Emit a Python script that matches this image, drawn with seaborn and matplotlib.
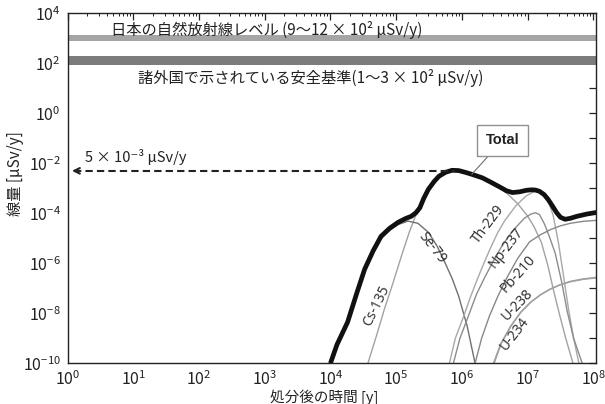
import numpy as np
import pandas as pd
import matplotlib
matplotlib.use("Agg")
import matplotlib.pyplot as plt
import seaborn as sns
from matplotlib.ticker import LogLocator, NullFormatter, FixedLocator, FixedFormatter, NullLocator

# ---------------- data (log10 values) ----------------
# log10(time after disposal [y]) and log10(dose [uSv/y])
total_logt = [4.00, 4.10, 4.26, 4.40, 4.52, 4.65, 4.77, 4.90, 5.03, 5.15, 5.23, 5.30, 5.36, 5.42,
              5.49, 5.58, 5.65, 5.75, 5.85, 5.95, 6.05, 6.15, 6.31, 6.45, 6.57, 6.68, 6.77, 6.88,
              6.98, 7.06, 7.12, 7.18, 7.25, 7.31, 7.38, 7.44, 7.50, 7.57, 7.65, 7.75, 7.90, 8.06]
total_logd = [-10.0, -9.25, -8.36, -7.20, -6.24, -5.50, -4.92, -4.60, -4.36, -4.20, -4.12, -3.98, -3.78, -3.40,
              -3.04, -2.72, -2.52, -2.36, -2.28, -2.29, -2.36, -2.44, -2.58, -2.77, -2.94, -3.10, -3.17, -3.14,
              -3.08, -3.06, -3.07, -3.12, -3.25, -3.44, -3.72, -3.97, -4.16, -4.24, -4.20, -4.12, -4.03, -3.96]

cs135_logt = [4.57, 4.70, 4.82, 4.95, 5.08, 5.20, 5.34, 5.42, 5.49, 5.58, 5.65, 5.75, 5.85, 5.95, 6.05,
              6.15, 6.31, 6.45, 6.57, 6.70, 6.85, 7.00, 7.10, 7.21, 7.31, 7.39, 7.48, 7.58, 7.69]
cs135_logd = [-10.0, -8.9, -7.84, -6.8, -5.71, -4.75, -3.80, -3.42, -3.06, -2.74, -2.54, -2.38, -2.30, -2.31, -2.38,
              -2.46, -2.60, -2.80, -2.98, -3.24, -3.62, -4.11, -4.55, -5.17, -6.11, -7.04, -8.0, -9.0, -10.0]

se79_logt = [4.00, 4.10, 4.26, 4.40, 4.52, 4.65, 4.77, 4.90, 5.03, 5.18, 5.33, 5.49, 5.62, 5.74, 5.85, 5.95, 6.08, 6.20]
se79_logd = [-10.0, -9.30, -8.40, -7.25, -6.30, -5.60, -5.02, -4.68, -4.45, -4.31, -4.40, -4.76, -5.30, -5.96,
             -6.60, -7.31, -8.51, -10.0]

th229_logt = [5.81, 5.90, 6.03, 6.13, 6.24, 6.35, 6.45, 6.55, 6.65, 6.82, 6.98, 7.10, 7.18, 7.25, 7.32,
              7.39, 7.47, 7.54, 7.62, 7.70, 7.78]
th229_logd = [-10.0, -9.0, -8.1, -7.35, -6.6, -5.9, -5.3, -4.75, -4.3, -3.7, -3.3, -3.13, -3.14, -3.27, -3.55,
              -4.1, -5.2, -6.4, -7.8, -9.0, -10.0]

np237_logt = [5.87, 5.97, 6.10, 6.22, 6.35, 6.48, 6.61, 6.73, 6.85, 6.95, 7.05, 7.12, 7.18, 7.26, 7.34,
              7.42, 7.52, 7.60, 7.70, 7.83]
np237_logd = [-10.0, -9.0, -8.1, -7.25, -6.55, -5.9, -5.3, -4.85, -4.48, -4.2, -4.03, -3.98, -4.05, -4.45,
              -5.0, -5.6, -6.77, -7.9, -9.0, -10.0]

pb210_logt = [6.20, 6.30, 6.42, 6.55, 6.70, 6.85, 7.03, 7.20, 7.35, 7.50, 7.65, 7.85, 8.06]
pb210_logd = [-10.0, -9.0, -8.1, -7.3, -6.5, -5.8, -5.14, -4.85, -4.65, -4.50, -4.40, -4.32, -4.28]

u238_logt = [6.48, 6.59, 6.74, 6.89, 7.04, 7.19, 7.34, 7.49, 7.65, 7.85, 8.06]
u238_logd = [-10.0, -9.22, -8.52, -7.97, -7.57, -7.27, -7.04, -6.87, -6.74, -6.64, -6.58]

u234_logt = [6.49, 6.60, 6.75, 6.90, 7.05, 7.20, 7.35, 7.50, 7.65, 7.85, 8.06]
u234_logd = [-10.0, -9.2, -8.5, -7.95, -7.55, -7.25, -7.02, -6.85, -6.72, -6.62, -6.56]

nuclide_names = ["Cs-135", "Se-79", "Th-229", "Np-237", "Pb-210", "U-238", "U-234"]

# reference levels [uSv/y]
natural_band = [760, 1320]        # 日本の自然放射線レベル
standard_band = [83, 190]         # 諸外国の安全基準
target_dose = 5e-3                # 5 x 10^-3 uSv/y
peak_time = 10 ** 5.89

xtick_values = [1e0, 1e1, 1e2, 1e3, 1e4, 1e5, 1e6, 1e7, 1e8]
xtick_labels = [r"$\mathregular{10^{%d}}$" % e for e in range(0, 9)]
ytick_values = [10.0 ** e for e in range(-10, 5)]
ytick_labels = [r"$\mathregular{10^{%d}}$" % e if e % 2 == 0 else "" for e in range(-10, 5)]

# ---------------- build tables ----------------
curves = {
    "Cs-135": (cs135_logt, cs135_logd),
    "Se-79": (se79_logt, se79_logd),
    "Th-229": (th229_logt, th229_logd),
    "Np-237": (np237_logt, np237_logd),
    "Pb-210": (pb210_logt, pb210_logd),
    "U-238": (u238_logt, u238_logd),
    "U-234": (u234_logt, u234_logd),
}
frames = []
for name, (lt, ld) in curves.items():
    frames.append(pd.DataFrame({"t": np.power(10.0, lt), "dose": np.power(10.0, ld), "nuclide": name}))
df = pd.concat(frames, ignore_index=True)
df_total = pd.DataFrame({"t": np.power(10.0, total_logt), "dose": np.power(10.0, total_logd)})

# ---------------- style ----------------
sns.set_style("white")
plt.rcParams["font.family"] = ["Noto Sans CJK JP", "DejaVu Sans"]
plt.rcParams["mathtext.fontset"] = "custom"
plt.rcParams["mathtext.rm"] = "Noto Sans"
plt.rcParams["mathtext.it"] = "Noto Sans:italic"
plt.rcParams["mathtext.bf"] = "Noto Sans:bold"

palette = {"Cs-135": "#a2a2a2", "Se-79": "#707070", "Th-229": "#a8a8a8", "Np-237": "#8c8c8c",
           "Pb-210": "#888888", "U-238": "#a0a0a0", "U-234": "#a0a0a0"}

fig = plt.figure(figsize=(6.05, 4.04), dpi=100)
ax = fig.add_axes([67.5 / 605, 1 - 363.3 / 404, 528.5 / 605, 350 / 404])
ax.set_xscale("log")
ax.set_yscale("log")
ax.set_xlim(1, 10 ** 8.04)
ax.set_ylim(1e-10, 1e4)

# bands
ax.axhspan(natural_band[0], natural_band[1], color="#a5a5a5", lw=0, zorder=1)
ax.axhspan(standard_band[0], standard_band[1], color="#7c7c7c", lw=0, zorder=1)

sns.lineplot(data=df, x="t", y="dose", hue="nuclide", palette=palette, legend=False,
             estimator=None, lw=1.0, ax=ax, zorder=2)
sns.lineplot(data=df_total, x="t", y="dose", color="#111111", lw=3.4, estimator=None,
             ax=ax, zorder=3, solid_joinstyle="round", solid_capstyle="butt")

# dashed arrow to axis
ax.hlines(target_dose, 1.25, peak_time, colors="#222222", linestyles=(0, (3.5, 2)), lw=1.5, zorder=3)
ax.annotate("", xy=(1.06, target_dose), xytext=(1.6, target_dose),
            arrowprops=dict(arrowstyle="->", color="#222222", lw=1.5, mutation_scale=10), zorder=3)

# texts
ax.text(0.082, 0.952, "日本の自然放射線レベル (9～12 × 10² μSv/y)", transform=ax.transAxes,
        fontsize=11, va="center", ha="left", color="#222222")
ax.text(0.134, 0.815, "諸外国で示されている安全基準(1～3 × 10² μSv/y)", transform=ax.transAxes,
        fontsize=11, va="center", ha="left", color="#222222")
ax.text(0.033, 0.589, "5 × 10⁻³ μSv/y", transform=ax.transAxes,
        fontsize=10.5, va="center", ha="left", color="#222222")

ax.annotate("Total", xy=(10 ** 6.15, 10 ** -2.44), xytext=(0.823, 0.637), textcoords="axes fraction",
            fontsize=10.5, fontweight="bold", ha="center", va="center", color="#222222",
            family=["Liberation Sans", "DejaVu Sans"],
            bbox=dict(boxstyle="square,pad=0.6", fc="white", ec="#909090", lw=1),
            arrowprops=dict(arrowstyle="-", color="#707070", lw=0.8, shrinkA=0, shrinkB=0), zorder=5)

label_pos = {
    "Cs-135": (10 ** 4.70, 10 ** -7.71, 64),
    "Se-79": (10 ** 5.54, 10 ** -5.39, -52),
    "Th-229": (10 ** 6.41, 10 ** -4.43, 53),
    "Np-237": (10 ** 6.67, 10 ** -5.39, 52),
    "Pb-210": (10 ** 6.85, 10 ** -6.43, 48),
    "U-238": (10 ** 6.84, 10 ** -7.67, 46),
    "U-234": (10 ** 6.81, 10 ** -8.83, 52),
}
for name in nuclide_names:
    x, y, rot = label_pos[name]
    ax.text(x, y, name, rotation=rot, ha="center", va="center", fontsize=10,
            color="#333333", rotation_mode="anchor", family=["Noto Sans", "DejaVu Sans"], zorder=4)

# axes / ticks
ax.xaxis.set_major_locator(FixedLocator(xtick_values))
ax.xaxis.set_major_formatter(FixedFormatter(xtick_labels))
ax.xaxis.set_minor_locator(LogLocator(base=10, subs=np.arange(2, 10), numticks=100))
ax.xaxis.set_minor_formatter(NullFormatter())
ax.yaxis.set_major_locator(FixedLocator(ytick_values))
ax.yaxis.set_major_formatter(FixedFormatter(ytick_labels))
ax.yaxis.set_minor_locator(NullLocator())
ax.tick_params(which="both", direction="in", top=True, right=True, colors="#222222")
ax.tick_params(which="major", length=5, width=0.9, labelsize=11.5, pad=5)
ax.tick_params(which="minor", length=2.5, width=0.7)
for s in ax.spines.values():
    s.set_color("#222222")
    s.set_linewidth(1.0)
ax.set_xlabel("")
ax.set_ylabel("")

fig.text(324 / 605, 1 - 397 / 404, "処分後の時間 [y]", ha="center", va="center", fontsize=10.5, color="#222222")
fig.text(15 / 605, 1 - 174 / 404, "線量 [μSv/y]", ha="center", va="center", rotation=90,
         fontsize=11, color="#222222")

fig.savefig("out.png", dpi=100)
